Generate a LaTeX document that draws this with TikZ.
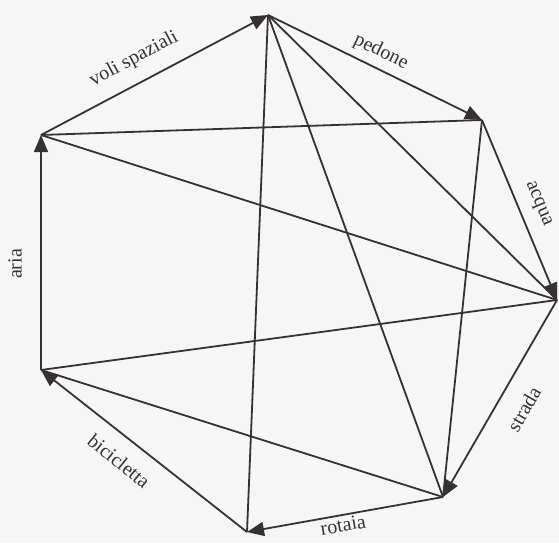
\documentclass[tikz,border=0pt]{standalone}
\usepackage{fontspec}
\setmainfont{Liberation Serif}
\usetikzlibrary{arrows.meta}
\definecolor{ink}{HTML}{363232}
\definecolor{paper}{HTML}{F6F6F6}
\begin{document}
\begin{tikzpicture}[x=1pt,y=1pt,
  edge/.style={draw=ink,line width=1.8pt},
  arc/.style={edge,-{Triangle[length=17pt,width=14pt]}},
  lbl/.style={text=ink,font=\fontsize{20}{20}\selectfont,inner sep=0pt}]
\fill[paper] (0,0) rectangle (559,542);
\useasboundingbox (0,0) rectangle (559,542);
\coordinate (T) at (268,527);
\coordinate (UR) at (482,422);
\coordinate (R) at (557,242);
\coordinate (BR) at (443,45);
\coordinate (B) at (247,10);
\coordinate (LL) at (41,172);
\coordinate (LU) at (41,407);
% diagonals
\draw[edge] (T) -- (B);
\draw[edge] (T) -- (BR);
\draw[edge] (T) -- (R);
\draw[edge] (LU) -- (UR);
\draw[edge] (LU) -- (R);
\draw[edge] (LL) -- (R);
\draw[edge] (LL) -- (BR);
\draw[edge] (UR) -- (BR);
% cycle
\draw[arc] (LU) -- (T);
\draw[arc] (T) -- (UR);
\draw[arc] (UR) -- (R);
\draw[arc] (R) -- (BR);
\draw[arc] (BR) -- (B);
\draw[arc] (B) -- (LL);
\draw[arc] (LL) -- (LU);
% labels
\node[lbl,rotate=28] (l1) at (134,483) {voli spaziali};
\node[lbl,rotate=-26] (l2) at (381,490) {pedone};
\node[lbl,rotate=-67] (l3) at (538,338) {acqua};
\node[lbl,rotate=60] (l4) at (524,133) {strada};
\node[lbl,rotate=10] (l5) at (343,17) {rotaia};
\node[lbl,rotate=-39] (l6) at (119,81) {bicicletta};
\node[lbl,rotate=90] (l7) at (15,278) {aria};
\end{tikzpicture}
\end{document}
